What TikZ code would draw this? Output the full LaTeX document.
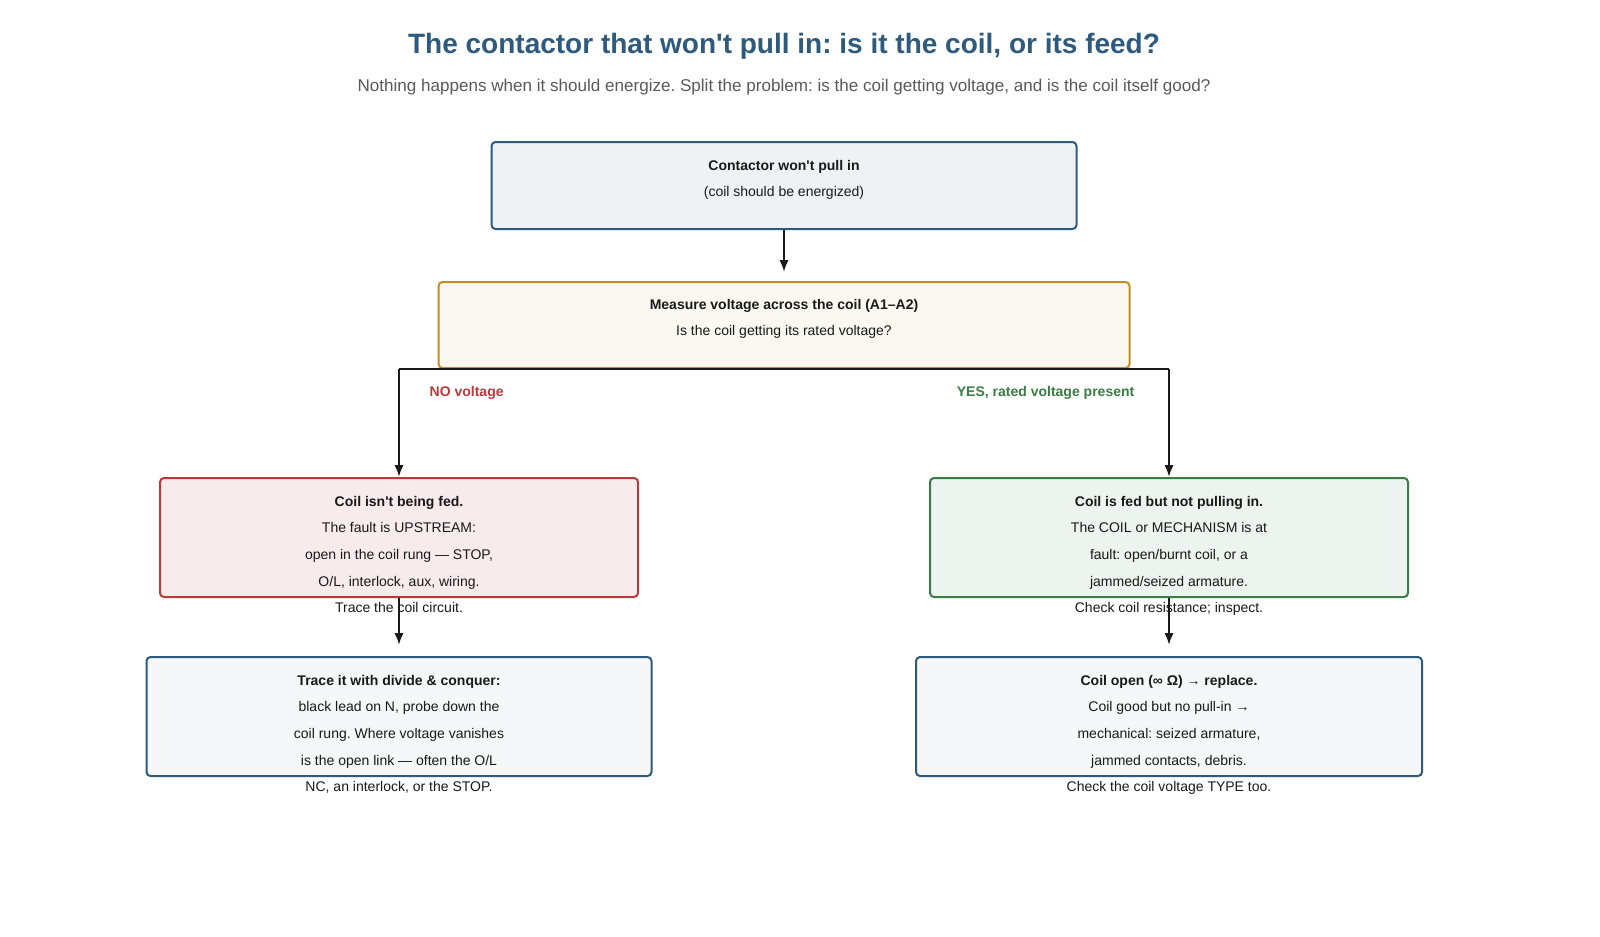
\documentclass[tikz,border=0pt]{standalone}
\usepackage{fontspec}
\setmainfont{Liberation Sans}
\usetikzlibrary{arrows.meta}
\definecolor{navy}{HTML}{2E5A7E}
\definecolor{gold}{HTML}{C0901F}
\definecolor{rd}{HTML}{B83A3A}
\definecolor{gr}{HTML}{3A7D44}
\frenchspacing
\newcommand{\aq}{\textquotesingle}
\begin{document}
\begin{tikzpicture}[x=0.75pt,y=-0.75pt,
 box/.style={draw,line width=1.5pt,rounded corners=3pt,inner sep=0pt},
 txt/.style={anchor=north,inner sep=0pt,align=center,font=\fontsize{10.5}{19.9}\selectfont,text=black!90},
 arr/.style={line width=1.6pt,draw=black!90,-{Latex[length=9pt,width=7pt]}}]
\useasboundingbox (0,0) rectangle (1600,936);
\node[font=\bfseries\fontsize{21}{25}\selectfont,text=navy] (title) at (784,46) {The contactor that won\aq t pull in: is it the coil, or its feed?};
\node[font=\fontsize{12.8}{15}\selectfont,text=black!65] (sub) at (784,87) {Nothing happens when it should energize. Split the problem: is the coil getting voltage, and is the coil itself good?};
\node[box,draw=navy,fill=navy!8,minimum width=585*0.75pt,minimum height=87*0.75pt] (b1) at (784,185.5) {};
\node[txt] (t1) at (784,160) {\textbf{Contactor won\aq t pull in}\\(coil should be energized)};
\node[box,draw=gold,fill=gold!6,minimum width=691*0.75pt,minimum height=86*0.75pt] (b2) at (784,325) {};
\node[txt] (t2) at (784,299) {\textbf{Measure voltage across the coil (A1–A2)}\\Is the coil getting its rated voltage?};
\node[box,draw=rd,fill=rd!10,minimum width=478*0.75pt,minimum height=119*0.75pt] (b3) at (399,537.5) {};
\node[txt] (t3) at (399,496) {\textbf{Coil isn\aq t being fed.}\\The fault is UPSTREAM:\\open in the coil rung — STOP,\\O/L, interlock, aux, wiring.\\Trace the coil circuit.};
\node[box,draw=gr,fill=gr!9,minimum width=478*0.75pt,minimum height=119*0.75pt] (b4) at (1169,537.5) {};
\node[txt] (t4) at (1169,496) {\textbf{Coil is fed but not pulling in.}\\The COIL or MECHANISM is at\\fault: open/burnt coil, or a\\jammed/seized armature.\\Check coil resistance; inspect.};
\node[box,draw=navy,fill=navy!5,minimum width=505*0.75pt,minimum height=119*0.75pt] (b5) at (399,716.5) {};
\node[txt] (t5) at (399,675) {\textbf{Trace it with divide \& conquer:}\\black lead on N, probe down the\\coil rung. Where voltage vanishes\\is the open link — often the O/L\\NC, an interlock, or the STOP.};
\node[box,draw=navy,fill=navy!5,minimum width=506*0.75pt,minimum height=119*0.75pt] (b6) at (1169,716.5) {};
\node[txt] (t6) at (1169,675) {\textbf{Coil open (∞ Ω) → replace.}\\Coil good but no pull-in →\\mechanical: seized armature,\\jammed contacts, debris.\\Check the coil voltage TYPE too.};
\coordinate (jl) at (399,369);
\coordinate (jr) at (1169,369);
\draw[arr] (b1.south) -- (784,272);
\draw[line width=1.6pt,draw=black!90] (jl) -- (jr);
\draw[arr] (jl) -- (b3.north);
\draw[arr] (jr) -- (b4.north);
\draw[arr] (b3.south) -- (399,645);
\draw[arr] (b4.south) -- (1169,645);
\node[font=\bfseries\fontsize{10.5}{12}\selectfont,text=rd,anchor=west] (l1) at (425,393) {NO voltage};
\node[font=\bfseries\fontsize{10.5}{12}\selectfont,text=gr,anchor=east] (l2) at (1139,393) {YES, rated voltage present};
\end{tikzpicture}
\end{document}
